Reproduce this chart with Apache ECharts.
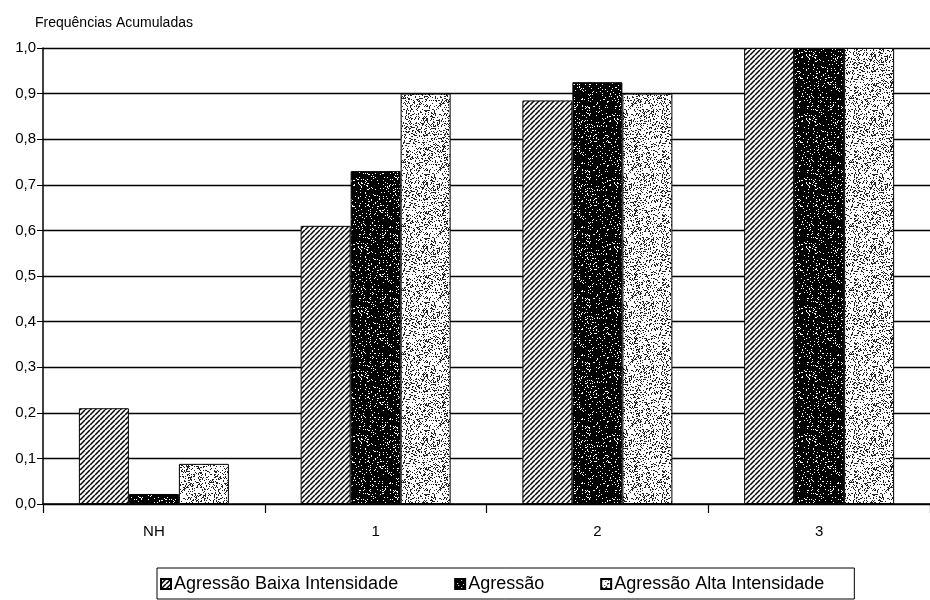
<!DOCTYPE html>
<html>
<head>
<meta charset="utf-8">
<script src="https://cdn.jsdelivr.net/npm/echarts@6/dist/echarts.min.js"></script>
<style>
  html, body { margin: 0; padding: 0; background: #fff; }
  #chart { width: 930px; height: 600px; }
</style>
</head>
<body>
<div id="chart"></div>
<script>
var categorias = ['NH', '1', '2', '3'];
var nomes = ['Agressão Baixa Intensidade', 'Agressão', 'Agressão Alta Intensidade'];
var baixa = [0.21, 0.61, 0.885, 1.0];
var agressao = [0.022, 0.73, 0.925, 1.0];
var alta = [0.088, 0.90, 0.90, 1.0];
var yTicks = [0, 0.1, 0.2, 0.3, 0.4, 0.5, 0.6, 0.7, 0.8, 0.9, 1.0];

// gerador simples com semente, so para a textura dos pontos
var seed = 7;
function rnd() {
    seed = (seed * 16807) % 2147483647;
    return seed / 2147483647;
}

function hachura() {
    var c = document.createElement('canvas');
    c.width = 5; c.height = 5;
    var g = c.getContext('2d');
    g.fillStyle = '#fff';
    g.fillRect(0, 0, 5, 5);
    g.strokeStyle = '#000';
    g.lineWidth = 1.5;
    for (var k = -5; k <= 10; k += 5) {
        g.beginPath();
        g.moveTo(k, 5);
        g.lineTo(k + 5, 0);
        g.stroke();
    }
    return c;
}

function pontilhado(fundo, ponto, densidade) {
    var n = 64;
    var c = document.createElement('canvas');
    c.width = n; c.height = n;
    var g = c.getContext('2d');
    g.fillStyle = fundo;
    g.fillRect(0, 0, n, n);
    g.fillStyle = ponto;
    for (var x = 0; x < n; x++) {
        for (var y = 0; y < n; y++) {
            if (rnd() < densidade) g.fillRect(x, y, 1, 1);
        }
    }
    return c;
}

var padroes = [
    { image: hachura(), repeat: 'repeat' },
    { image: pontilhado('#000', '#fff', 0.09), repeat: 'repeat' },
    { image: pontilhado('#fff', '#222', 0.25), repeat: 'repeat' }
];

var chart = echarts.init(document.getElementById('chart'));
var valores = [baixa, agressao, alta];
var series = [];
for (var i = 0; i < 3; i++) {
    series.push({
        name: nomes[i],
        type: 'bar',
        data: valores[i],
        barWidth: 50,
        barGap: '0%',
        itemStyle: {
            color: padroes[i],
            borderColor: '#000',
            borderWidth: 1
        }
    });
}

var option = {
    animation: false,
    textStyle: { fontFamily: 'Liberation Sans', color: '#000' },
    title: {
        text: 'Frequências Acumuladas',
        left: 30,
        top: 11,
        textStyle: { fontSize: 14, fontWeight: 'normal', color: '#000', fontFamily: 'Liberation Sans' }
    },
    grid: { left: 43, width: 897, top: 48, bottom: 96 },
    legend: {
        data: nomes,
        icon: 'rect',
        bottom: 1,
        left: 157,
        itemWidth: 10,
        itemHeight: 10,
        itemGap: 56,
        borderColor: '#000',
        borderWidth: 1,
        borderRadius: 0,
        padding: [7, 30, 6, 3],
        textStyle: { fontSize: 18, color: '#000', fontFamily: 'Liberation Sans', padding: [0, 0, 0, -2] }
    },
    xAxis: {
        type: 'category',
        data: categorias,
        axisLine: { lineStyle: { color: '#000', width: 1.5 } },
        axisTick: { show: true, length: 9, lineStyle: { color: '#000', width: 1.2 } },
        axisLabel: { color: '#000', fontSize: 15, margin: 20 }
    },
    yAxis: {
        type: 'value',
        min: yTicks[0],
        max: yTicks[yTicks.length - 1],
        interval: 0.1,
        axisLine: { show: true, lineStyle: { color: '#000', width: 1.5 } },
        axisTick: { show: true, length: 6, lineStyle: { color: '#000' } },
        axisLabel: {
            color: '#000',
            fontSize: 15,
            margin: 7,
            formatter: function(v) { return v.toFixed(1).replace('.', ','); }
        },
        splitLine: { lineStyle: { color: '#000', width: 1.4 } }
    },
    series: series
};
chart.setOption(option);
</script>
</body>
</html>
